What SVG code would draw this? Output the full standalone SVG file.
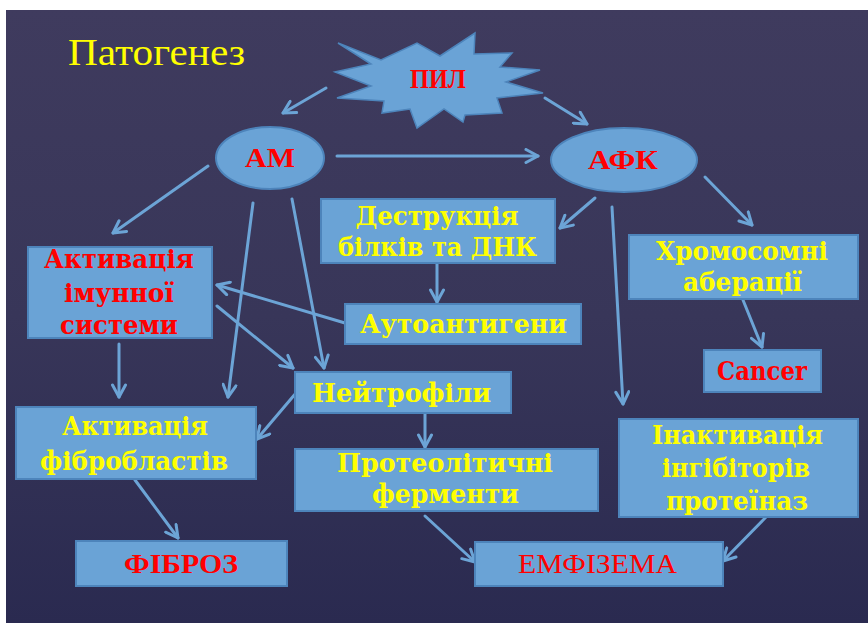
<svg xmlns="http://www.w3.org/2000/svg" width="868" height="623" viewBox="0 0 868 623">
<defs>
<linearGradient id="bg" x1="0" y1="0" x2="0" y2="1">
<stop offset="0" stop-color="#3f3b5e"/>
<stop offset="0.5" stop-color="#383659"/>
<stop offset="1" stop-color="#2a2a50"/>
</linearGradient>
<marker id="ah" viewBox="0 0 16 16" refX="14" refY="8" markerWidth="16" markerHeight="16" markerUnits="userSpaceOnUse" orient="auto">
<path d="M2,1.5 L14,8 L2,14.5" fill="none" stroke="#6ca4d6" stroke-width="3" stroke-linecap="round" stroke-linejoin="round"/>
</marker>
<style>
.box{fill:#6aa3d6;stroke:#4d84bb;stroke-width:2}
.y{fill:#ffff00;font-family:"DejaVu Serif",serif;font-weight:bold;font-size:26.5px;text-anchor:middle}
.r{fill:#ff0000;font-family:"DejaVu Serif",serif;font-weight:bold;font-size:26.5px;text-anchor:middle}
.rt{fill:#ff0000;font-family:"Liberation Serif",serif;font-weight:bold;font-size:28px;text-anchor:middle}
.c line{stroke:#6ca4d6;stroke-width:3;stroke-linecap:round;marker-end:url(#ah)}
</style>
</defs>
<rect x="0" y="0" width="868" height="623" fill="#ffffff"/>
<rect x="6" y="10" width="862" height="613" fill="url(#bg)"/>
<text x="68" y="65" font-family="Liberation Serif, serif" font-size="38" fill="#ffff00" textLength="177" lengthAdjust="spacingAndGlyphs">Патогенез</text>

<g class="c" id="connectors">
<line x1="326" y1="88" x2="283" y2="113"/>
<line x1="545" y1="98" x2="587" y2="124"/>
<line x1="337" y1="156" x2="538" y2="156"/>
<line x1="208" y1="166" x2="113" y2="233"/>
<line x1="253" y1="203" x2="228" y2="397"/>
<line x1="292" y1="199" x2="324" y2="368"/>
<line x1="595" y1="198" x2="560" y2="228"/>
<line x1="612" y1="207" x2="623" y2="404"/>
<line x1="705" y1="177" x2="752" y2="225"/>
<line x1="437" y1="264" x2="437" y2="302"/>
<line x1="345" y1="323" x2="217" y2="285"/>
<line x1="217" y1="306" x2="293" y2="368"/>
<line x1="119" y1="344" x2="119" y2="397"/>
<line x1="296" y1="393" x2="257" y2="439"/>
<line x1="425" y1="414" x2="425" y2="447"/>
<line x1="425" y1="516" x2="475" y2="562"/>
<line x1="766" y1="517" x2="723" y2="561"/>
<line x1="743" y1="300" x2="762" y2="347"/>
<line x1="135" y1="480" x2="178" y2="538"/>
</g>

<g id="pil">
<polygon points="338,43 381,60 417,43 440,56 475,33 474,54 512,53 500,67 540,70 506,82 543,93 497,98 502,113 465,115 463,122 444,109 417,128 410,109 382,113 384,101 337,98 371,86 335,72 371,64" fill="#6aa3d6" stroke="#4d84bb" stroke-width="1.5" stroke-linejoin="miter"/>
<text x="438" y="88" class="rt" font-size="24" textLength="56" lengthAdjust="spacingAndGlyphs">ПИЛ</text>
</g>

<g id="am">
<ellipse cx="270" cy="158" rx="54" ry="31" class="box"/>
<text x="270" y="167" class="rt" textLength="50" lengthAdjust="spacingAndGlyphs">АМ</text>
</g>

<g id="afk">
<ellipse cx="624" cy="160" rx="73" ry="32" class="box"/>
<text x="623" y="169" class="rt" textLength="70" lengthAdjust="spacingAndGlyphs">АФК</text>
</g>

<g id="destruktsiia">
<rect x="321" y="199" width="234" height="64" class="box"/>
<text x="437" y="225" class="y" textLength="163" lengthAdjust="spacingAndGlyphs">Деструкція</text>
<text x="437.5" y="256" class="y" textLength="199" lengthAdjust="spacingAndGlyphs">білків та ДНК</text>
</g>

<g id="autoantygeny">
<rect x="345" y="304" width="236" height="40" class="box"/>
<text x="463.5" y="333" class="y" textLength="207" lengthAdjust="spacingAndGlyphs">Аутоантигени</text>
</g>

<g id="aktyvatsiia-imunnoi">
<rect x="28" y="247" width="184" height="91" class="box"/>
<text x="119" y="268" class="r" textLength="150" lengthAdjust="spacingAndGlyphs">Активація</text>
<text x="119" y="302" class="r" textLength="110" lengthAdjust="spacingAndGlyphs">імунної</text>
<text x="119" y="334" class="r" textLength="118" lengthAdjust="spacingAndGlyphs">системи</text>
</g>

<g id="neitrofily">
<rect x="295" y="372" width="216" height="41" class="box"/>
<text x="401.5" y="402" class="y" textLength="179" lengthAdjust="spacingAndGlyphs">Нейтрофіли</text>
</g>

<g id="proteolitychni">
<rect x="295" y="449" width="303" height="62" class="box"/>
<text x="445" y="472" class="y" textLength="216" lengthAdjust="spacingAndGlyphs">Протеолітичні</text>
<text x="445.5" y="503" class="y" textLength="147" lengthAdjust="spacingAndGlyphs">ферменти</text>
</g>

<g id="aktyvatsiia-fibroblastiv">
<rect x="16" y="407" width="240" height="72" class="box"/>
<text x="135" y="435" class="y" textLength="146" lengthAdjust="spacingAndGlyphs">Активація</text>
<text x="134" y="470" class="y" textLength="188" lengthAdjust="spacingAndGlyphs">фібробластів</text>
</g>

<g id="fibroz">
<rect x="76" y="541" width="211" height="45" class="box"/>
<text x="181" y="573" class="rt" textLength="114" lengthAdjust="spacingAndGlyphs">ФІБРОЗ</text>
</g>

<g id="emfizema">
<rect x="475" y="542" width="248" height="44" class="box"/>
<text x="597.5" y="573" font-family="Liberation Serif, serif" font-size="28" fill="#ff0000" text-anchor="middle" textLength="159" lengthAdjust="spacingAndGlyphs">ЕМФІЗЕМА</text>
</g>

<g id="khromosomni">
<rect x="629" y="235" width="229" height="64" class="box"/>
<text x="742" y="260" class="y" textLength="172" lengthAdjust="spacingAndGlyphs">Хромосомні</text>
<text x="742.5" y="291" class="y" textLength="119" lengthAdjust="spacingAndGlyphs">аберації</text>
</g>

<g id="cancer">
<rect x="704" y="350" width="117" height="42" class="box"/>
<text x="762" y="380" class="r" textLength="90" lengthAdjust="spacingAndGlyphs">Cancer</text>
</g>

<g id="inaktyvatsiia">
<rect x="619" y="419" width="239" height="98" class="box"/>
<text x="737.5" y="444" class="y" textLength="171" lengthAdjust="spacingAndGlyphs">Інактивація</text>
<text x="736" y="477" class="y" textLength="148" lengthAdjust="spacingAndGlyphs">інгібіторів</text>
<text x="737" y="510" class="y" textLength="142" lengthAdjust="spacingAndGlyphs">протеїназ</text>
</g>
</svg>
